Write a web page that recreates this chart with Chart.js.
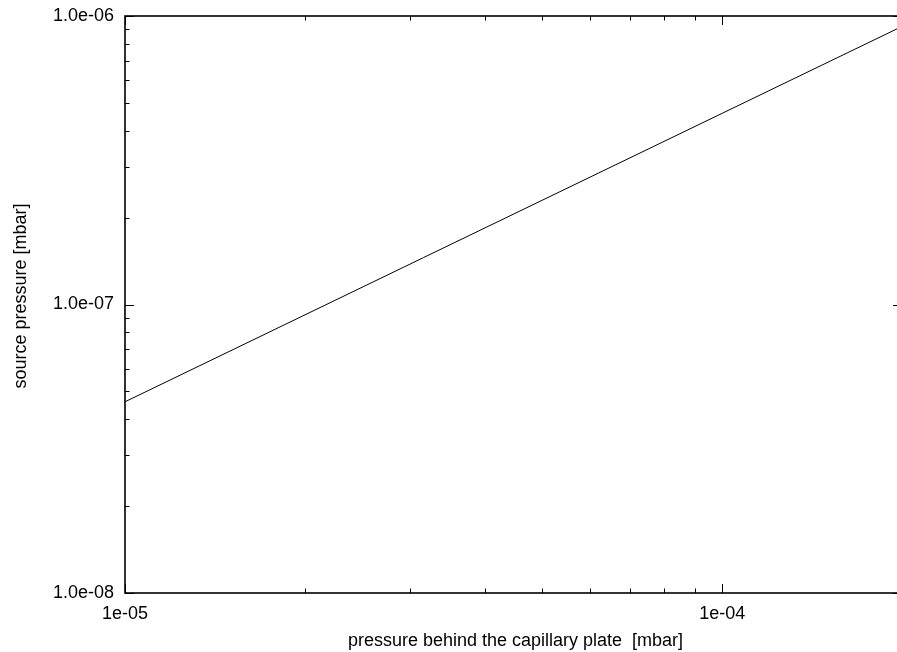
<!DOCTYPE html>
<html>
<head>
<meta charset="utf-8">
<script src="https://cdn.jsdelivr.net/npm/chart.js@4/dist/chart.umd.min.js"></script>
<style>
  html, body { margin: 0; padding: 0; background: #fff; overflow: hidden; }
  #wrap { width: 897px; height: 652px; overflow: hidden; position: relative; }
  #c { display: block; }
</style>
</head>
<body>
<div id="wrap"><canvas id="c" width="910" height="652"></canvas></div>
<script>
// Capillary plate: pressure behind the plate vs. resulting source pressure (log-log)
const behindPressure = [1e-5, 1e-4, 2e-4];          // mbar
const sourcePressure = [4.6e-8, 4.6e-7, 9.2e-7];    // mbar

const xTickValues = [1e-5, 1e-4];
const xTickLabels = ['1e-05', '1e-04'];
const yTickValues = [1e-8, 1e-7, 1e-6];
const yTickLabels = ['1.0e-08', '1.0e-07', '1.0e-06'];

const xTitle = 'pressure behind the capillary plate  [mbar]';
const yTitle = 'source pressure [mbar]';

const FONT = '"Liberation Sans", Arial, Helvetica, sans-serif';
const FONT_SIZE = 18;

// gnuplot-like frame with inward major/minor ticks mirrored on all four sides
const framePlugin = {
  id: 'frame',
  afterDraw(chart) {
    const { ctx, chartArea: a, scales } = chart;
    const xs = scales.x, ys = scales.y;
    ctx.save();
    ctx.strokeStyle = '#000';

    const decadeTicks = (min, max) => {
      const out = [];
      for (let e = Math.floor(Math.log10(min)); e <= Math.ceil(Math.log10(max)); e++) {
        for (let k = 1; k <= 9; k++) {
          const v = k * Math.pow(10, e);
          if (v >= min * 0.9999 && v <= max * 1.0001) out.push({ v, major: k === 1 });
        }
      }
      return out;
    };

    ctx.lineWidth = 1;
    ctx.beginPath();
    decadeTicks(xs.min, xs.max).forEach(t => {
      const px = Math.round(xs.getPixelForValue(t.v)) + 0.5;
      const len = t.major ? 9 : 4.5;
      ctx.moveTo(px, a.bottom); ctx.lineTo(px, a.bottom - len);
      ctx.moveTo(px, a.top); ctx.lineTo(px, a.top + len);
    });
    decadeTicks(ys.min, ys.max).forEach(t => {
      const py = Math.round(ys.getPixelForValue(t.v)) + 0.5;
      const len = t.major ? 9 : 4.5;
      ctx.moveTo(a.left, py); ctx.lineTo(a.left + len, py);
      ctx.moveTo(a.right, py); ctx.lineTo(a.right - len, py);
    });
    ctx.stroke();

    ctx.lineWidth = 1.6;
    ctx.strokeRect(a.left, a.top, a.right - a.left, a.bottom - a.top);

    // axis titles
    ctx.fillStyle = '#000';
    ctx.font = FONT_SIZE + 'px ' + FONT;
    ctx.textAlign = 'center';
    ctx.textBaseline = 'middle';
    ctx.fillText(xTitle, (a.left + a.right) / 2 + 2, 641.5);
    ctx.translate(21, 296);
    ctx.rotate(-Math.PI / 2);
    ctx.fillText(yTitle, 0, 0);
    ctx.restore();
  }
};

new Chart(document.getElementById('c'), {
  type: 'line',
  data: {
    datasets: [{
      data: behindPressure.map((x, i) => ({ x, y: sourcePressure[i] })),
      borderColor: '#000',
      borderWidth: 1,
      pointRadius: 0,
      fill: false,
      tension: 0
    }]
  },
  options: {
    responsive: false,
    animation: false,
    devicePixelRatio: 1,
    // the right edge of the frame sits just past the visible area
    layout: { padding: { left: 0, top: 16, right: 8, bottom: 0 } },
    plugins: { legend: { display: false }, tooltip: { enabled: false } },
    scales: {
      x: {
        type: 'logarithmic',
        min: 1e-5,
        max: 2e-4,
        grid: { display: false, drawTicks: false },
        border: { display: false },
        afterBuildTicks: s => { s.ticks = xTickValues.map(v => ({ value: v })); },
        afterFit: s => { s.height = 59; s.paddingLeft = 0; s.paddingRight = 0; },
        ticks: {
          color: '#000',
          font: { family: FONT, size: FONT_SIZE },
          padding: 10,
          maxRotation: 0,
          autoSkip: false,
          callback: (v) => xTickLabels[xTickValues.findIndex(t => Math.abs(t - v) / t < 1e-6)] ?? ''
        }
      },
      y: {
        type: 'logarithmic',
        min: 1e-8,
        max: 1e-6,
        grid: { display: false, drawTicks: false },
        border: { display: false },
        afterBuildTicks: s => { s.ticks = yTickValues.map(v => ({ value: v })); },
        afterFit: s => { s.width = 125; s.paddingTop = 0; s.paddingBottom = 0; },
        ticks: {
          color: '#000',
          font: { family: FONT, size: FONT_SIZE },
          padding: 11,
          autoSkip: false,
          callback: (v) => yTickLabels[yTickValues.findIndex(t => Math.abs(t - v) / t < 1e-6)] ?? ''
        }
      }
    }
  },
  plugins: [framePlugin]
});
</script>
</body>
</html>
